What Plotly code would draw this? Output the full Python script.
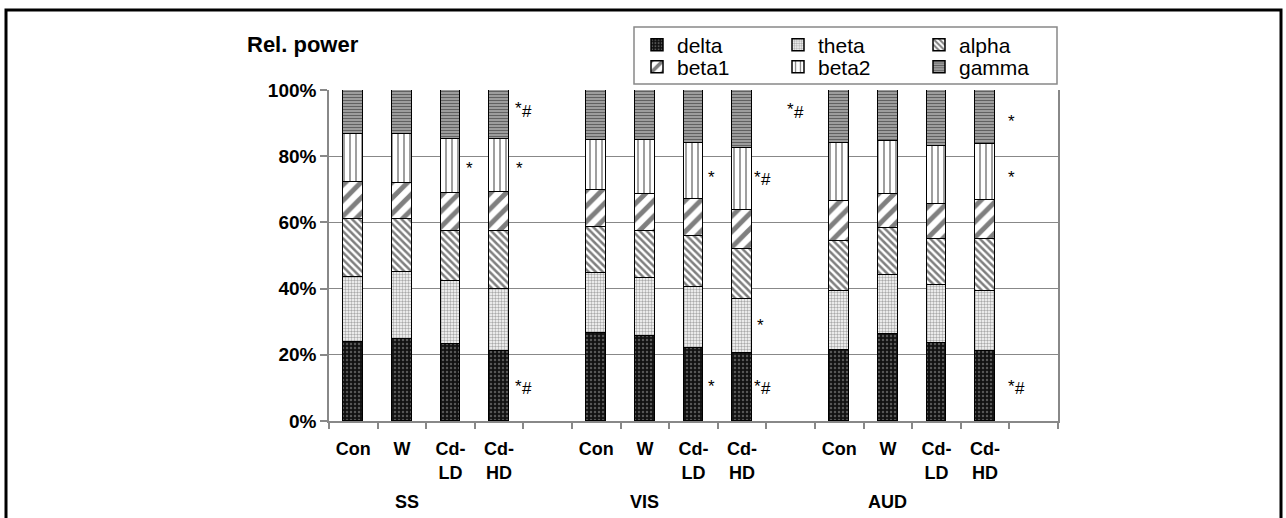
import plotly.graph_objects as go

# ---- data ----
slot_labels = ["Con", "W", "Cd-<br>LD", "Cd-<br>HD", "",
               "Con", "W", "Cd-<br>LD", "Cd-<br>HD", "",
               "Con", "W", "Cd-<br>LD", "Cd-<br>HD", ""]
bar_slots = [0, 1, 2, 3, 5, 6, 7, 8, 10, 11, 12, 13]
groups = ["SS", "VIS", "AUD"]
group_pos = [1.1, 6.0, 11.0]
y_ticks = [0, 20, 40, 60, 80, 100]
y_tick_text = ["0%", "20%", "40%", "60%", "80%", "100%"]

bands = ["delta", "theta", "alpha", "beta1", "beta2", "gamma"]
delta = [24.0, 24.9, 23.4, 21.0, 26.7, 25.7, 22.1, 20.4, 21.4, 26.4, 23.6, 21.3]
theta = [19.4, 20.0, 18.8, 19.0, 17.9, 17.4, 18.4, 16.5, 17.9, 17.7, 17.6, 18.0]
alpha = [17.5, 16.0, 15.3, 17.5, 14.0, 14.3, 15.4, 15.1, 15.2, 14.1, 13.7, 15.7]
beta1 = [11.2, 10.9, 11.3, 11.7, 11.1, 11.2, 11.1, 11.8, 11.9, 10.4, 10.7, 11.9]
beta2 = [14.6, 14.9, 16.5, 16.1, 15.2, 16.3, 16.9, 18.8, 17.7, 16.1, 17.5, 16.8]
gamma = [13.3, 13.3, 14.7, 14.7, 15.1, 15.1, 16.1, 17.4, 15.9, 15.3, 16.9, 16.3]
values = [delta, theta, alpha, beta1, beta2, gamma]

# significance marks: (x slot position, y %, text)
sig_marks = [
    (3.40, 95.5, "*"), (3.58, 93.4, "#"), (2.39, 77.5, "*"), (3.41, 77.5, "*"),
    (3.40, 11.7, "*"), (3.58, 9.9, "#"),
    (9.00, 95.2, "*"), (9.18, 93.3, "#"), (7.38, 74.9, "*"), (8.32, 74.9, "*"),
    (8.50, 73.1, "#"), (8.38, 30.2, "*"), (7.38, 11.7, "*"), (8.32, 11.7, "*"),
    (8.50, 9.9, "#"),
    (13.54, 91.6, "*"), (13.54, 74.9, "*"), (13.54, 11.7, "*"), (13.72, 9.9, "#"),
]

# ---- styles ----
patterns = {
    "delta": dict(shape=".", bgcolor="#111111", fgcolor="#9a9a9a", size=4, solidity=0.3),
    "theta": dict(shape=".", bgcolor="#ffffff", fgcolor="#555555", size=3, solidity=0.5),
    "alpha": dict(shape="\\", bgcolor="#ffffff", fgcolor="#000000", size=5, solidity=0.5),
    "beta1": dict(shape="/", bgcolor="#ffffff", fgcolor="#000000", size=11, solidity=0.45),
    "beta2": dict(shape="|", bgcolor="#ffffff", fgcolor="#000000", size=6, solidity=0.25),
    "gamma": dict(shape="-", bgcolor="#a8a8a8", fgcolor="#1a1a1a", size=3, solidity=0.45),
}
legend_of = {"delta": "legend", "theta": "legend", "alpha": "legend",
             "beta1": "legend2", "beta2": "legend2", "gamma": "legend2"}

FONT = "Liberation Sans, Arial, sans-serif"

fig = go.Figure()
for name, vals in zip(bands, values):
    fig.add_trace(go.Bar(
        x=bar_slots, y=vals, name=name, width=0.41,
        marker=dict(color="white", line=dict(color="black", width=1.5),
                    pattern=patterns[name]),
        legend=legend_of[name],
    ))

for xs, ys, t in sig_marks:
    fig.add_annotation(x=xs, y=ys, xref="x", yref="y", text=t, showarrow=False,
                       font=dict(family=FONT, size=17, color="black"),
                       yshift=-4 if t == "*" else 0)

for g, gx in zip(groups, group_pos):
    fig.add_annotation(x=gx, y=-0.244, xref="x", yref="paper", text=g, showarrow=False,
                       font=dict(family=FONT, size=18, color="black", weight="bold"),
                       yanchor="middle")

fig.add_annotation(x=-0.1152, y=1.136, xref="paper", yref="paper", text="Rel. power",
                   showarrow=False, xanchor="left", yanchor="middle",
                   font=dict(family=FONT, size=22, color="black", weight="bold"))

# legend box
fig.add_shape(type="rect", xref="paper", yref="paper",
              x0=(634 - 329) / 729, x1=(1057 - 329) / 729,
              y0=(421 - 84) / 331, y1=(421 - 27) / 331,
              line=dict(color="#888888", width=1.5), fillcolor="white", layer="below")
# outer frame
fig.add_shape(type="rect", xref="paper", yref="paper",
              x0=(6 - 329) / 729, x1=(1281 - 329) / 729,
              y0=(421 - 540) / 331, y1=(421 - 10) / 331,
              line=dict(color="black", width=3))

legend_common = dict(orientation="h", entrywidth=96, entrywidthmode="pixels",
                     traceorder="normal", bgcolor="rgba(0,0,0,0)",
                     font=dict(family=FONT, size=21, color="black"),
                     xanchor="left", yanchor="middle", itemclick=False)

fig.update_layout(
    width=1286, height=518,
    margin=dict(l=329, r=228, t=90, b=97),
    paper_bgcolor="white", plot_bgcolor="white",
    barmode="stack", bargap=0,
    showlegend=True,
    legend=dict(x=(637 - 329) / 729, y=(421 - 45) / 331, **legend_common),
    legend2=dict(x=(637 - 329) / 729, y=(421 - 67) / 331, **legend_common),
    font=dict(family=FONT, color="black"),
    xaxis=dict(range=[-0.5, 14.5], tickmode="array", tickvals=list(range(15)),
               ticktext=slot_labels, ticks="", showgrid=False, zeroline=False,
               showline=True, linecolor="#888888", linewidth=1.5,
               tickfont=dict(family=FONT, size=18, color="black", weight="bold"),
               ticklabelstandoff=11,
               minor=dict(tickmode="array", tickvals=[i - 0.5 for i in range(16)],
                          ticks="outside", ticklen=6, tickcolor="#888888", tickwidth=1.5,
                          showgrid=False)),
    yaxis=dict(range=[0, 100], tickmode="array", tickvals=y_ticks, ticktext=y_tick_text,
               ticks="outside", ticklen=7, tickcolor="#888888",
               tickwidth=1.5, showgrid=True, gridcolor="#888888", gridwidth=1.2,
               zeroline=False, showline=True, linecolor="#888888", linewidth=1.5,
               mirror=True,
               tickfont=dict(family=FONT, size=19, color="black", weight="bold")),
)

fig.write_html("out.html")
